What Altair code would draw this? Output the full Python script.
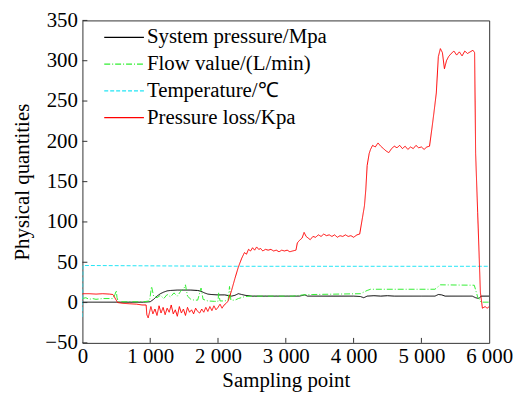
import altair as alt
import pandas as pd

FONT = "'Times New Roman', 'Liberation Serif', serif"

series_names = ["System pressure/Mpa", "Flow value/(L/min)", "Temperature/\u2103", "Pressure loss/Kpa"]
series_colors = ["#000000", "#33ee33", "#22e5f5", "#ff0000"]
series_dash = [[1, 0], [6, 2, 1, 2], [4, 2], [1, 0]]

sys_x = [0, 500, 900, 1000, 1050, 1100, 1150, 1200, 1250, 1300, 1400, 1500, 1600, 1700, 1750, 1800,
         1850, 1900, 2000, 2100, 2200, 2250, 2300, 2350, 2400, 2500, 3000, 3200, 3280, 3320, 4000, 4100,
         4150, 4200, 4300, 4400, 4500, 4600, 5000, 5200, 5250, 5300, 5350, 5750, 5800, 5850, 5880, 6000]
sys_y = [0.5, 0.5, 0.5, 1, 4, 8, 11, 13, 14.5, 15, 15.5, 15.5, 15.5, 15, 14, 12,
         10.5, 10, 9.5, 9.5, 8, 9, 11, 10, 9, 8, 8, 8, 9.5, 8, 8, 7.5,
         6, 8, 8.5, 8, 8.5, 8, 8, 8, 10, 9.5, 8, 8, 6, 5, 8, 8]

flow_x = [0, 50, 100, 150, 200, 300, 400, 450, 480, 500, 510, 530, 600, 900, 990, 1020, 1050, 1100,
          1150, 1200, 1250, 1300, 1350, 1400, 1450, 1500, 1520, 1550, 1600, 1650, 1700, 1750, 1780,
          1850, 1950, 2000, 2010, 2030, 2100, 2150, 2170, 2190, 2250, 2300, 2400, 2500, 3100, 3250,
          3400, 4100, 4200, 4250, 5200, 5280, 5780, 5830, 5880, 6000]
flow_y = [5, 6, 4, 5, 4, 5, 5, 5, 10, 15, 6, 1, 1, 1, 2, 20, 8, 6,
          9, 5, 10, 7, 12, 8, 14, 18, 22, 8, 4, 3, 3, 18, 4,
          2, 1.5, 1.5, 12, 2, 2, 3, 20, 3, 3, 5, 7.5, 8, 8, 9.5,
          10, 11, 15, 16.5, 16.5, 22, 21.5, 7, 0.5, 0.5]

temp_x = [0, 8, 2200, 6000]
temp_y = [-18, 46, 45, 45]

loss_x = [0, 100, 200, 300, 400, 450, 520, 600, 700, 800, 880, 940, 950, 970, 990, 1010, 1040, 1070,
          1100, 1130, 1160, 1190, 1220, 1250, 1280, 1310, 1340, 1370, 1400, 1430, 1460, 1490, 1520,
          1550, 1580, 1610, 1640, 1670, 1700, 1730, 1760, 1790, 1820, 1850, 1880, 1910, 1940, 1970,
          2000, 2030, 2060, 2090, 2120, 2150, 2200, 2250, 2300, 2350, 2390, 2420, 2450, 2480, 2510,
          2540, 2570, 2600, 2630, 2660, 2700, 2740, 2780, 2820, 2860, 2900, 2940, 2980, 3020, 3060,
          3100, 3150, 3170, 3200, 3240, 3270, 3300, 3330, 3360, 3400, 3440, 3480, 3520, 3560, 3600,
          3640, 3680, 3720, 3760, 3800, 3840, 3880, 3920, 3960, 4000, 4050, 4090, 4110, 4130, 4160,
          4180, 4200, 4230, 4250, 4280, 4320, 4360, 4400, 4440, 4480, 4520, 4560, 4600, 4640, 4680,
          4720, 4760, 4800, 4840, 4880, 4920, 4960, 5000, 5040, 5080, 5120, 5160, 5190, 5220, 5250,
          5280, 5310, 5340, 5370, 5400, 5440, 5480, 5520, 5560, 5600, 5640, 5680, 5720, 5760, 5785,
          5800, 5830, 5850, 5870, 5900, 5940, 5970, 6000]
loss_y = [11, 11, 10.5, 11, 10.5, 10, 0, -1, -1.5, -2, -3, -3, -15, -19, -12, -5, -14, -8,
          -16, -4, -13, -6, -15, -7, -12, -3, -14, -9, -17, -5, -13, -8, -16,
          -6, -12, -9, -14, -7, -11, -13, -8, -12, -6, -11, -5, -10, -4, -9,
          -6, -2, -7, -3, -1, 2, 15, 30, 44, 55, 62, 60, 66, 64, 68,
          65, 69, 66, 67, 64, 66, 65, 66, 64, 65, 63, 65, 64, 65, 63,
          64, 65, 74, 77, 80, 87, 82, 80, 78, 82, 81, 84, 82, 85, 83,
          84, 82, 84, 81, 83, 82, 84, 82, 83, 81, 84, 85, 95, 105, 120,
          140, 170, 185, 190, 195, 193, 198, 194, 191, 188, 186, 191, 194, 192, 195,
          191, 194, 190, 193, 191, 195, 192, 193, 190, 193, 194, 219, 239, 260, 305,
          315, 310, 290, 300, 305, 309, 312, 307, 311, 306, 312, 309, 311, 313, 310,
          185, 112, 63, 13, -7, -5, -7, -5]

x_ticks = [1000, 2000, 3000, 4000, 5000]
y_ticks = [-50, 0, 50, 100, 150, 200, 250, 300, 350]

frames = []
for name, xs, ys in zip(series_names, [sys_x, flow_x, temp_x, loss_x], [sys_y, flow_y, temp_y, loss_y]):
    frames.append(pd.DataFrame({"x": xs, "y": ys, "series": name}))
df = pd.concat(frames, ignore_index=True)
df["order"] = range(len(df))

W, H = 410, 325
xscale = alt.Scale(domain=[0, 6000], nice=False)
yscale = alt.Scale(domain=[-50, 350], nice=False)

lines = alt.Chart(df).mark_line(strokeWidth=1, clip=True).encode(
    x=alt.X("x:Q", scale=xscale, title="Sampling point",
            axis=alt.Axis(values=[0, 1000, 2000, 3000, 4000, 5000, 6000], ticks=False,
                          labelExpr="datum.value == 0 ? '0' : replace(format(datum.value, ','), ',', ' ')",
                          grid=False, domain=False, labelPadding=3, titlePadding=3,
                          labelFlush=False, labelOverlap=False)),
    y=alt.Y("y:Q", scale=yscale, title="Physical quantities",
            axis=alt.Axis(values=y_ticks, ticks=False, grid=False, domain=False,
                          labelPadding=5, titlePadding=12, labelFlush=False, labelOverlap=False)),
    color=alt.Color("series:N", scale=alt.Scale(domain=series_names, range=series_colors),
                    legend=alt.Legend(title=None, orient="none", legendX=21, legendY=6,
                                      symbolType="M-1,0L3,0", symbolSize=400, symbolStrokeWidth=1.2,
                                      symbolFillColor="transparent",
                                      labelFont=FONT, labelFontSize=21, labelColor="black",
                                      labelOffset=22, rowPadding=6, padding=0, labelLimit=300)),
    strokeDash=alt.StrokeDash("series:N", scale=alt.Scale(domain=series_names, range=series_dash),
                              legend=None),
    detail="series:N",
    order="order:Q",
)

xt = alt.Chart(pd.DataFrame({"t": x_ticks})).mark_rule(color="#333", strokeWidth=1).encode(
    x=alt.X("t:Q", scale=xscale), y=alt.value(H), y2=alt.value(H - 5))
yt = alt.Chart(pd.DataFrame({"t": y_ticks})).mark_rule(color="#333", strokeWidth=1).encode(
    y=alt.Y("t:Q", scale=yscale), x=alt.value(0), x2=alt.value(5))

chart = alt.layer(lines, xt, yt).properties(
    width=W, height=H, padding={"left": 4, "top": 0, "right": 0, "bottom": 0}
).configure_view(stroke="#333", strokeWidth=1).configure_axis(
    labelFont=FONT, titleFont=FONT, labelFontSize=21, titleFontSize=21,
    labelColor="black", titleColor="black", titleFontWeight="normal"
)

chart.save("out.html", embed_options={"renderer": "svg", "actions": False})
